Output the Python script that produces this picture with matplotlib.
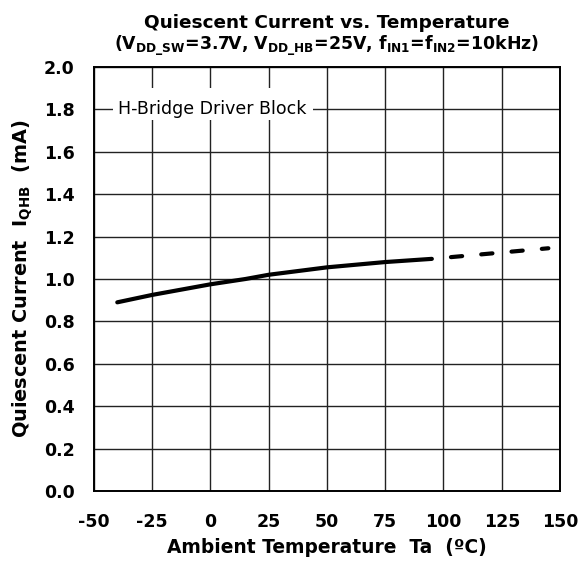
import matplotlib
matplotlib.use('Agg')
import matplotlib.pyplot as plt
from matplotlib.patches import Rectangle

# chart data
temp_solid = [-40, -25, 0, 15, 25, 50, 75, 95]
iq_solid = [0.89, 0.925, 0.975, 1.0, 1.02, 1.055, 1.08, 1.095]
temp_dash = [95, 100, 125, 145]
iq_dash = [1.095, 1.10, 1.125, 1.145]

x_ticks = [-50, -25, 0, 25, 50, 75, 100, 125, 150]
y_ticks = [0.0, 0.2, 0.4, 0.6, 0.8, 1.0, 1.2, 1.4, 1.6, 1.8, 2.0]

plt.rcParams['font.family'] = ['DejaVu Sans']
plt.rcParams['mathtext.fontset'] = 'dejavusans'
plt.rcParams['mathtext.default'] = 'bf'

fig = plt.figure(figsize=(5.79, 5.62), dpi=100)
ax = fig.add_axes([0.1623, 0.1263, 0.8049, 0.7545])

ax.plot(temp_solid, iq_solid, color='black', lw=3.0, solid_capstyle='round', zorder=3)
ax.plot(temp_dash, iq_dash, color='black', lw=3.0, linestyle=(2.7, (2.7, 4.6)),
        dash_capstyle='round', zorder=3)

ax.set_xlim(-50, 150)
ax.set_ylim(0, 2.0)
ax.set_xticks(x_ticks)
ax.set_yticks(y_ticks)
ax.set_xticklabels([str(t) for t in x_ticks])
ax.set_yticklabels(['%.1f' % t for t in y_ticks])
ax.tick_params(length=0, labelsize=12.5)
ax.tick_params(axis='y', pad=14)
ax.tick_params(axis='x', pad=16)
for lab in ax.get_xticklabels() + ax.get_yticklabels():
    lab.set_fontweight('bold')

ax.grid(True, color='#222222', lw=1.0)
ax.set_axisbelow(True)
for sp in ax.spines.values():
    sp.set_linewidth(1.4)

ax.set_xlabel('Ambient Temperature  Ta  (ºC)', fontsize=13.4, fontweight='bold', labelpad=5)
ax.set_ylabel('Quiescent Current  I$_{QHB}$  (mA)', fontsize=13.9, fontweight='bold', labelpad=6)

# two-line title
fig.text(0.5648, 0.950, 'Quiescent Current vs. Temperature', fontsize=13.3,
         fontweight='bold', ha='center', va='baseline')
fig.text(0.5648, 0.911, '(V$_{DD\\_SW}$=3.7V, V$_{DD\\_HB}$=25V, f$_{IN1}$=f$_{IN2}$=10kHz)',
         fontsize=12.5, fontweight='bold', ha='center', va='baseline')

# label box that breaks the grid
ax.add_patch(Rectangle((-42, 1.75), 86, 0.15, facecolor='white', edgecolor='none', zorder=1.5))
ax.text(-39.7, 1.8, 'H-Bridge Driver Block', fontsize=12.5, va='center', ha='left', zorder=2)

fig.savefig('out.png', dpi=100)
